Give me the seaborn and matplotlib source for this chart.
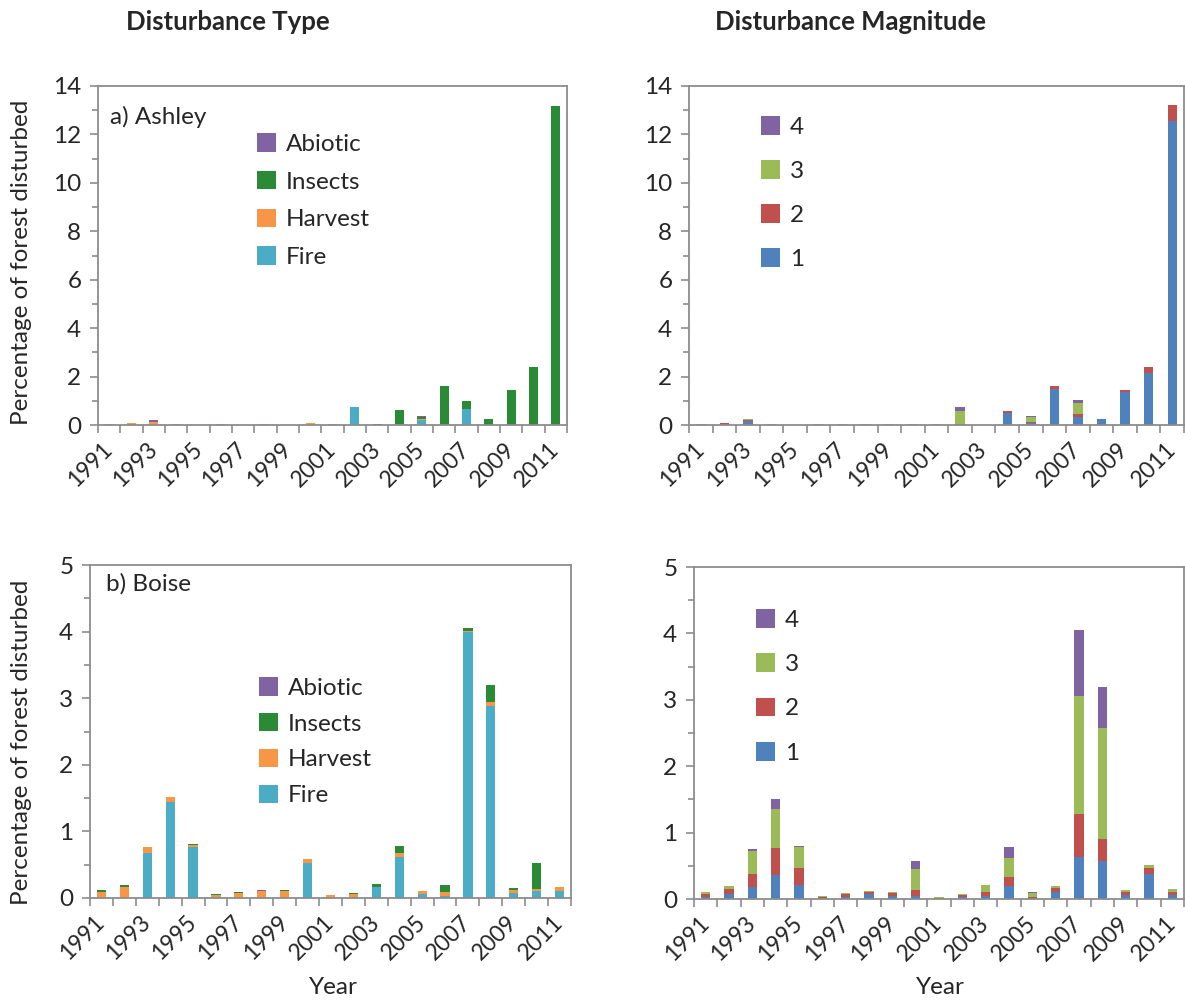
import numpy as np
import pandas as pd
import matplotlib
matplotlib.use("Agg")
import matplotlib.pyplot as plt
import matplotlib.transforms as mtransforms
import seaborn as sns
from matplotlib.patches import Patch
from matplotlib.ticker import MultipleLocator

years = list(range(1991, 2012))

# Ashley National Forest: percentage disturbed by type
ashley_fire = [0, 0, 0, 0, 0, 0, 0, 0, 0, 0, 0, 0.74, 0, 0, 0.21, 0, 0.65, 0, 0, 0, 0]
ashley_harvest = [0.04, 0.08, 0.13, 0.06, 0, 0.03, 0.02, 0.03, 0.02, 0.08, 0.05, 0.02, 0, 0.04, 0.04, 0, 0, 0, 0, 0, 0]
ashley_insects = [0, 0, 0, 0, 0, 0, 0, 0, 0, 0, 0, 0, 0.04, 0.56, 0.10, 1.61, 0.36, 0.24, 1.44, 2.38, 13.19]
ashley_abiotic = [0, 0, 0.08, 0, 0, 0, 0, 0, 0, 0, 0, 0, 0, 0, 0.02, 0, 0, 0, 0, 0, 0]

# Ashley National Forest: percentage disturbed by magnitude class
ashley_m1 = [0, 0, 0.17, 0, 0, 0, 0, 0, 0, 0, 0, 0, 0, 0.51, 0.10, 1.50, 0.34, 0.23, 1.38, 2.15, 12.56]
ashley_m2 = [0, 0.08, 0.03, 0, 0, 0.01, 0.01, 0.01, 0.01, 0.02, 0.01, 0.05, 0, 0.07, 0.03, 0.10, 0.13, 0.02, 0.07, 0.23, 0.64]
ashley_m3 = [0.03, 0, 0.04, 0.06, 0, 0.02, 0.02, 0.02, 0.02, 0.03, 0.02, 0.53, 0.02, 0, 0.21, 0, 0.45, 0, 0, 0.02, 0]
ashley_m4 = [0, 0, 0, 0, 0, 0, 0, 0, 0, 0, 0, 0.16, 0, 0, 0.04, 0.03, 0.10, 0, 0, 0, 0]

# Boise National Forest: percentage disturbed by type
boise_fire = [0, 0, 0.67, 1.44, 0.76, 0.02, 0, 0, 0, 0.52, 0, 0.02, 0.16, 0.61, 0.06, 0.03, 3.99, 2.88, 0.075, 0.10, 0.10]
boise_harvest = [0.09, 0.16, 0.10, 0.07, 0.04, 0.03, 0.08, 0.10, 0.11, 0.06, 0.04, 0.04, 0.01, 0.07, 0.04, 0.065, 0.02, 0.07, 0.045, 0.03, 0.06]
boise_insects = [0.03, 0.04, 0, 0.01, 0.01, 0.01, 0.014, 0, 0.01, 0, 0.01, 0.02, 0.04, 0.105, 0.01, 0.105, 0.04, 0.25, 0.03, 0.39, 0.01]
boise_abiotic = [0, 0, 0, 0, 0, 0, 0, 0.02, 0, 0, 0, 0, 0, 0, 0, 0, 0, 0, 0, 0, 0]

# Boise National Forest: percentage disturbed by magnitude class
boise_m1 = [0.03, 0.075, 0.175, 0.36, 0.205, 0.01, 0.035, 0.075, 0.04, 0.05, 0.005, 0.03, 0.045, 0.19, 0.02, 0.105, 0.63, 0.57, 0.055, 0.38, 0.055]
boise_m2 = [0.05, 0.08, 0.195, 0.415, 0.265, 0.02, 0.04, 0.035, 0.045, 0.08, 0.005, 0.03, 0.055, 0.135, 0.01, 0.065, 0.655, 0.33, 0.055, 0.08, 0.045]
boise_m3 = [0.025, 0.04, 0.355, 0.58, 0.32, 0.015, 0.02, 0.01, 0.02, 0.325, 0.02, 0.02, 0.11, 0.30, 0.065, 0.025, 1.765, 1.675, 0.03, 0.055, 0.055]
boise_m4 = [0, 0, 0.03, 0.155, 0.01, 0, 0, 0, 0, 0.12, 0, 0, 0, 0.155, 0.005, 0, 0.995, 0.615, 0, 0, 0]

type_levels = ["Abiotic", "Insects", "Harvest", "Fire"]
type_colors = {"Abiotic": "#8064A2", "Insects": "#2A8A36", "Harvest": "#F79646", "Fire": "#4BACC6"}
mag_levels = ["4", "3", "2", "1"]
mag_colors = {"4": "#8064A2", "3": "#9BBB59", "2": "#C0504D", "1": "#4F81BD"}

sns.set_style("ticks")
plt.rcParams["font.family"] = ["Lato", "DejaVu Sans"]

GRAY = "#8C8C8C"
FS = 17.5
XFS = 16.5


def long_frame(series):
    rows = []
    for level, values in series.items():
        for y, v in zip(years, values):
            rows.append({"year": y, "level": level, "value": v})
    return pd.DataFrame(rows)


def stacked(ax, series, levels, colors, ymax, major, minor):
    df = long_frame(series)
    sns.histplot(data=df, x="year", weights="value", hue="level",
                 hue_order=levels, palette=colors, multiple="stack",
                 discrete=True, shrink=0.4, alpha=1, linewidth=0,
                 legend=False, ax=ax)
    ax.set_xlim(1990.5, 2011.5)
    ax.set_ylim(0, ymax)
    ax.yaxis.set_major_locator(MultipleLocator(major))
    ax.yaxis.set_minor_locator(MultipleLocator(minor))
    ax.set_xticks(years[::2])
    ax.set_xticklabels([str(y) for y in years[::2]], rotation=45,
                       ha="right", va="center", rotation_mode="anchor")
    shift = mtransforms.ScaledTranslation(-7 / 100, 0, ax.figure.dpi_scale_trans)
    for lab in ax.get_xticklabels():
        lab.set_transform(lab.get_transform() + shift)
    ax.set_xticks(np.arange(1990.5, 2012, 1.0), minor=True)
    ax.tick_params(axis="x", which="major", length=0, pad=15, labelsize=XFS)
    ax.tick_params(axis="x", which="minor", length=6, width=1.2, color=GRAY, direction="out")
    ax.tick_params(axis="y", which="major", length=6, width=1.2, color=GRAY, labelsize=FS, pad=6)
    ax.tick_params(axis="y", which="minor", length=4, width=1.2, color=GRAY)
    for s in ax.spines.values():
        s.set_color(GRAY)
        s.set_linewidth(1.3)
    ax.set_xlabel("")
    ax.set_ylabel("")


def legend(ax, levels, colors, x, y, spacing):
    handles = [Patch(facecolor=colors[l], edgecolor="none", label=l) for l in levels]
    leg = ax.legend(handles=handles, loc="upper left", bbox_to_anchor=(x, y),
                    bbox_transform=ax.figure.transFigure, frameon=False,
                    fontsize=FS, handlelength=0.8, handleheight=0.8,
                    handletextpad=0.4, labelspacing=spacing, borderpad=0,
                    borderaxespad=0)
    return leg


W, H = 1185, 1001
fig = plt.figure(figsize=(W / 100, H / 100), dpi=100)


def axes_px(x0, x1, y0, y1):
    return fig.add_axes([x0 / W, 1 - y1 / H, (x1 - x0) / W, (y1 - y0) / H])


ax_a = axes_px(98, 567, 86, 425)
ax_b = axes_px(689, 1184, 86, 425)
ax_c = axes_px(90, 571, 565, 898)
ax_d = axes_px(694, 1184, 567, 899)

stacked(ax_a, {"Abiotic": ashley_abiotic, "Insects": ashley_insects,
               "Harvest": ashley_harvest, "Fire": ashley_fire},
        type_levels, type_colors, 14, 2, 1)
stacked(ax_b, {"4": ashley_m4, "3": ashley_m3, "2": ashley_m2, "1": ashley_m1},
        mag_levels, mag_colors, 14, 2, 1)
stacked(ax_c, {"Abiotic": boise_abiotic, "Insects": boise_insects,
               "Harvest": boise_harvest, "Fire": boise_fire},
        type_levels, type_colors, 5, 1, 0.5)
stacked(ax_d, {"4": boise_m4, "3": boise_m3, "2": boise_m2, "1": boise_m1},
        mag_levels, mag_colors, 5, 1, 0.5)

legend(ax_a, type_levels, type_colors, 257 / W, 1 - 133 / H, 0.66)
legend(ax_b, mag_levels, mag_colors, 761 / W, 1 - 116 / H, 0.92)
legend(ax_c, type_levels, type_colors, 259 / W, 1 - 677 / H, 0.58)
legend(ax_d, mag_levels, mag_colors, 756 / W, 1 - 609 / H, 0.93)

ax_a.text(110 / W, 1 - 117 / H, "a) Ashley", transform=fig.transFigure,
          fontsize=FS, va="center", ha="left")
ax_c.text(106 / W, 1 - 584 / H, "b) Boise", transform=fig.transFigure,
          fontsize=FS, va="center", ha="left")

fig.text(228 / W, 1 - 22 / H, "Disturbance Type", fontsize=18.5,
         fontweight="bold", ha="center", va="center")
fig.text(850 / W, 1 - 22 / H, "Disturbance Magnitude", fontsize=18.5,
         fontweight="bold", ha="center", va="center")

fig.text(22 / W, 1 - 262 / H, "Percentage of forest disturbed", fontsize=FS,
         rotation=90, ha="center", va="center")
fig.text(22 / W, 1 - 742 / H, "Percentage of forest disturbed", fontsize=FS,
         rotation=90, ha="center", va="center")

fig.text(333 / W, 1 - 988 / H, "Year", fontsize=FS, ha="center", va="center")
fig.text(940 / W, 1 - 988 / H, "Year", fontsize=FS, ha="center", va="center")

fig.savefig("out.png", dpi=100, facecolor="white")
